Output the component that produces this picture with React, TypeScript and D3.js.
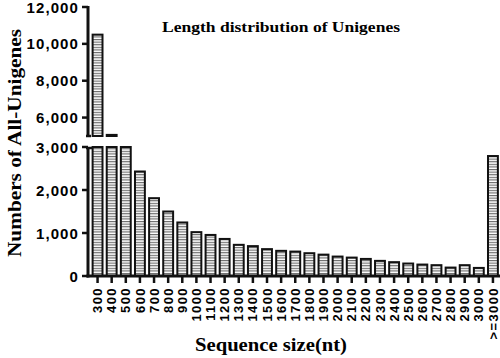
import React from "react";
import * as d3 from "d3";

const categories = ["300","400","500","600","700","800","900","1000","1100","1200","1300","1400","1500","1600","1700","1800","1900","2000","2100","2200","2300","2400","2500","2600","2700","2800","2900","3000",">=3000"];
const counts = [10500,5060,3400,2430,1810,1500,1245,1020,955,862,725,695,625,585,568,530,497,452,428,397,352,322,290,266,252,196,252,188,2790];
const upperTicks = [6000,8000,10000,12000];
const lowerTicks = [0,1000,2000,3000];
const title = "Length distribution of Unigenes";
const xLabel = "Sequence size(nt)";
const yLabel = "Numbers of All-Unigenes";

export default function App() {
  const W = 500, H = 358;
  const axisX = 88;
  const x = d3.scaleBand<string>().domain(categories).range([90.5, 500]).paddingInner(0.3).paddingOuter(0.15);
  const yU = d3.scaleLinear().domain([5000, 12000]).range([136, 7]);
  const yL = d3.scaleLinear().domain([0, 3000]).range([276, 147]);
  const fmt = d3.format(",");
  const bw = x.bandwidth();
  const tickFont = "'Liberation Sans', Arial, sans-serif";
  const serif = "'Liberation Serif', 'DejaVu Serif', serif";

  return (
    <svg width={W} height={H} style={{ position: "absolute", left: 0, top: 0, background: "#fff" }}>
      <defs>
        <pattern id="stripes" width="4" height="2.6" patternUnits="userSpaceOnUse">
          <rect width="4" height="2.6" fill="#fff" />
          <line x1="0" x2="4" y1="0.6" y2="0.6" stroke="#555" strokeWidth="1" />
        </pattern>
      </defs>
      <rect width={W} height={H} fill="#fff" />
      <text x={281} y={32} textAnchor="middle" fontFamily={serif} fontWeight="bold" fontSize={15} textLength={238} lengthAdjust="spacingAndGlyphs">{title}</text>

      {/* bars */}
      {categories.map((c, i) => {
        const v = counts[i];
        const bx = x(c)!;
        const els: any[] = [];
        els.push(
          <rect key={c + "l"} x={bx} y={yL(Math.min(v, 3000))} width={bw} height={yL(0) - yL(Math.min(v, 3000))}
            fill="url(#stripes)" stroke="#111" strokeWidth={2} />
        );
        if (v > 5000) {
          els.push(
            <rect key={c + "u"} x={bx} y={yU(v)} width={bw} height={yU(5000) - yU(v)}
              fill="url(#stripes)" stroke="#111" strokeWidth={2} />
          );
        }
        return <g key={c}>{els}</g>;
      })}

      {/* y axis upper */}
      <line x1={axisX} x2={axisX} y1={yU(12000) - 1} y2={yU(5000)} stroke="#111" strokeWidth={3} />
      <line x1={axisX - 2} x2={axisX + 3} y1={yU(5000)} y2={yU(5000)} stroke="#111" strokeWidth={2.5} />
      {upperTicks.map(t => (
        <g key={"u" + t}>
          <line x1={axisX - 6} x2={axisX} y1={yU(t)} y2={yU(t)} stroke="#111" strokeWidth={2.5} />
          <text x={axisX - 9} y={yU(t) + 5.5} textAnchor="end" fontFamily={tickFont} fontWeight="bold" fontSize={15} letterSpacing={1.1}>{fmt(t)}</text>
        </g>
      ))}
      {/* y axis lower */}
      <line x1={axisX} x2={axisX} y1={yL(3000)} y2={yL(0) + 1.5} stroke="#111" strokeWidth={3} />
      <line x1={axisX - 2} x2={axisX + 4} y1={yL(3000) + 1} y2={yL(3000) + 1} stroke="#111" strokeWidth={2.5} />
      {lowerTicks.map(t => (
        <g key={"l" + t}>
          <line x1={axisX - 6} x2={axisX} y1={yL(t)} y2={yL(t)} stroke="#111" strokeWidth={2.5} />
          <text x={axisX - 9} y={yL(t) + 5.5} textAnchor="end" fontFamily={tickFont} fontWeight="bold" fontSize={15} letterSpacing={1.1}>{fmt(t)}</text>
        </g>
      ))}

      {/* x axis */}
      <line x1={axisX - 1.5} x2={W} y1={yL(0)} y2={yL(0)} stroke="#111" strokeWidth={3} />
      {categories.map(c => {
        const cx = x(c)! + bw / 2;
        return (
          <g key={"t" + c}>
            <line x1={cx} x2={cx} y1={yL(0)} y2={yL(0) + 7} stroke="#111" strokeWidth={2.5} />
            <text transform={`translate(${cx + 4.6},287) rotate(-90)`} textAnchor="end" fontFamily={tickFont} fontWeight="bold" fontSize={13} letterSpacing={1.4}>{c}</text>
          </g>
        );
      })}

      <text x={271} y={351} textAnchor="middle" fontFamily={serif} fontWeight="bold" fontSize={18} textLength={152} lengthAdjust="spacingAndGlyphs">{xLabel}</text>
      <text transform={`translate(21,143) rotate(-90)`} textAnchor="middle" fontFamily={serif} fontWeight="bold" fontSize={19} textLength={228} lengthAdjust="spacingAndGlyphs">{yLabel}</text>
    </svg>
  );
}
